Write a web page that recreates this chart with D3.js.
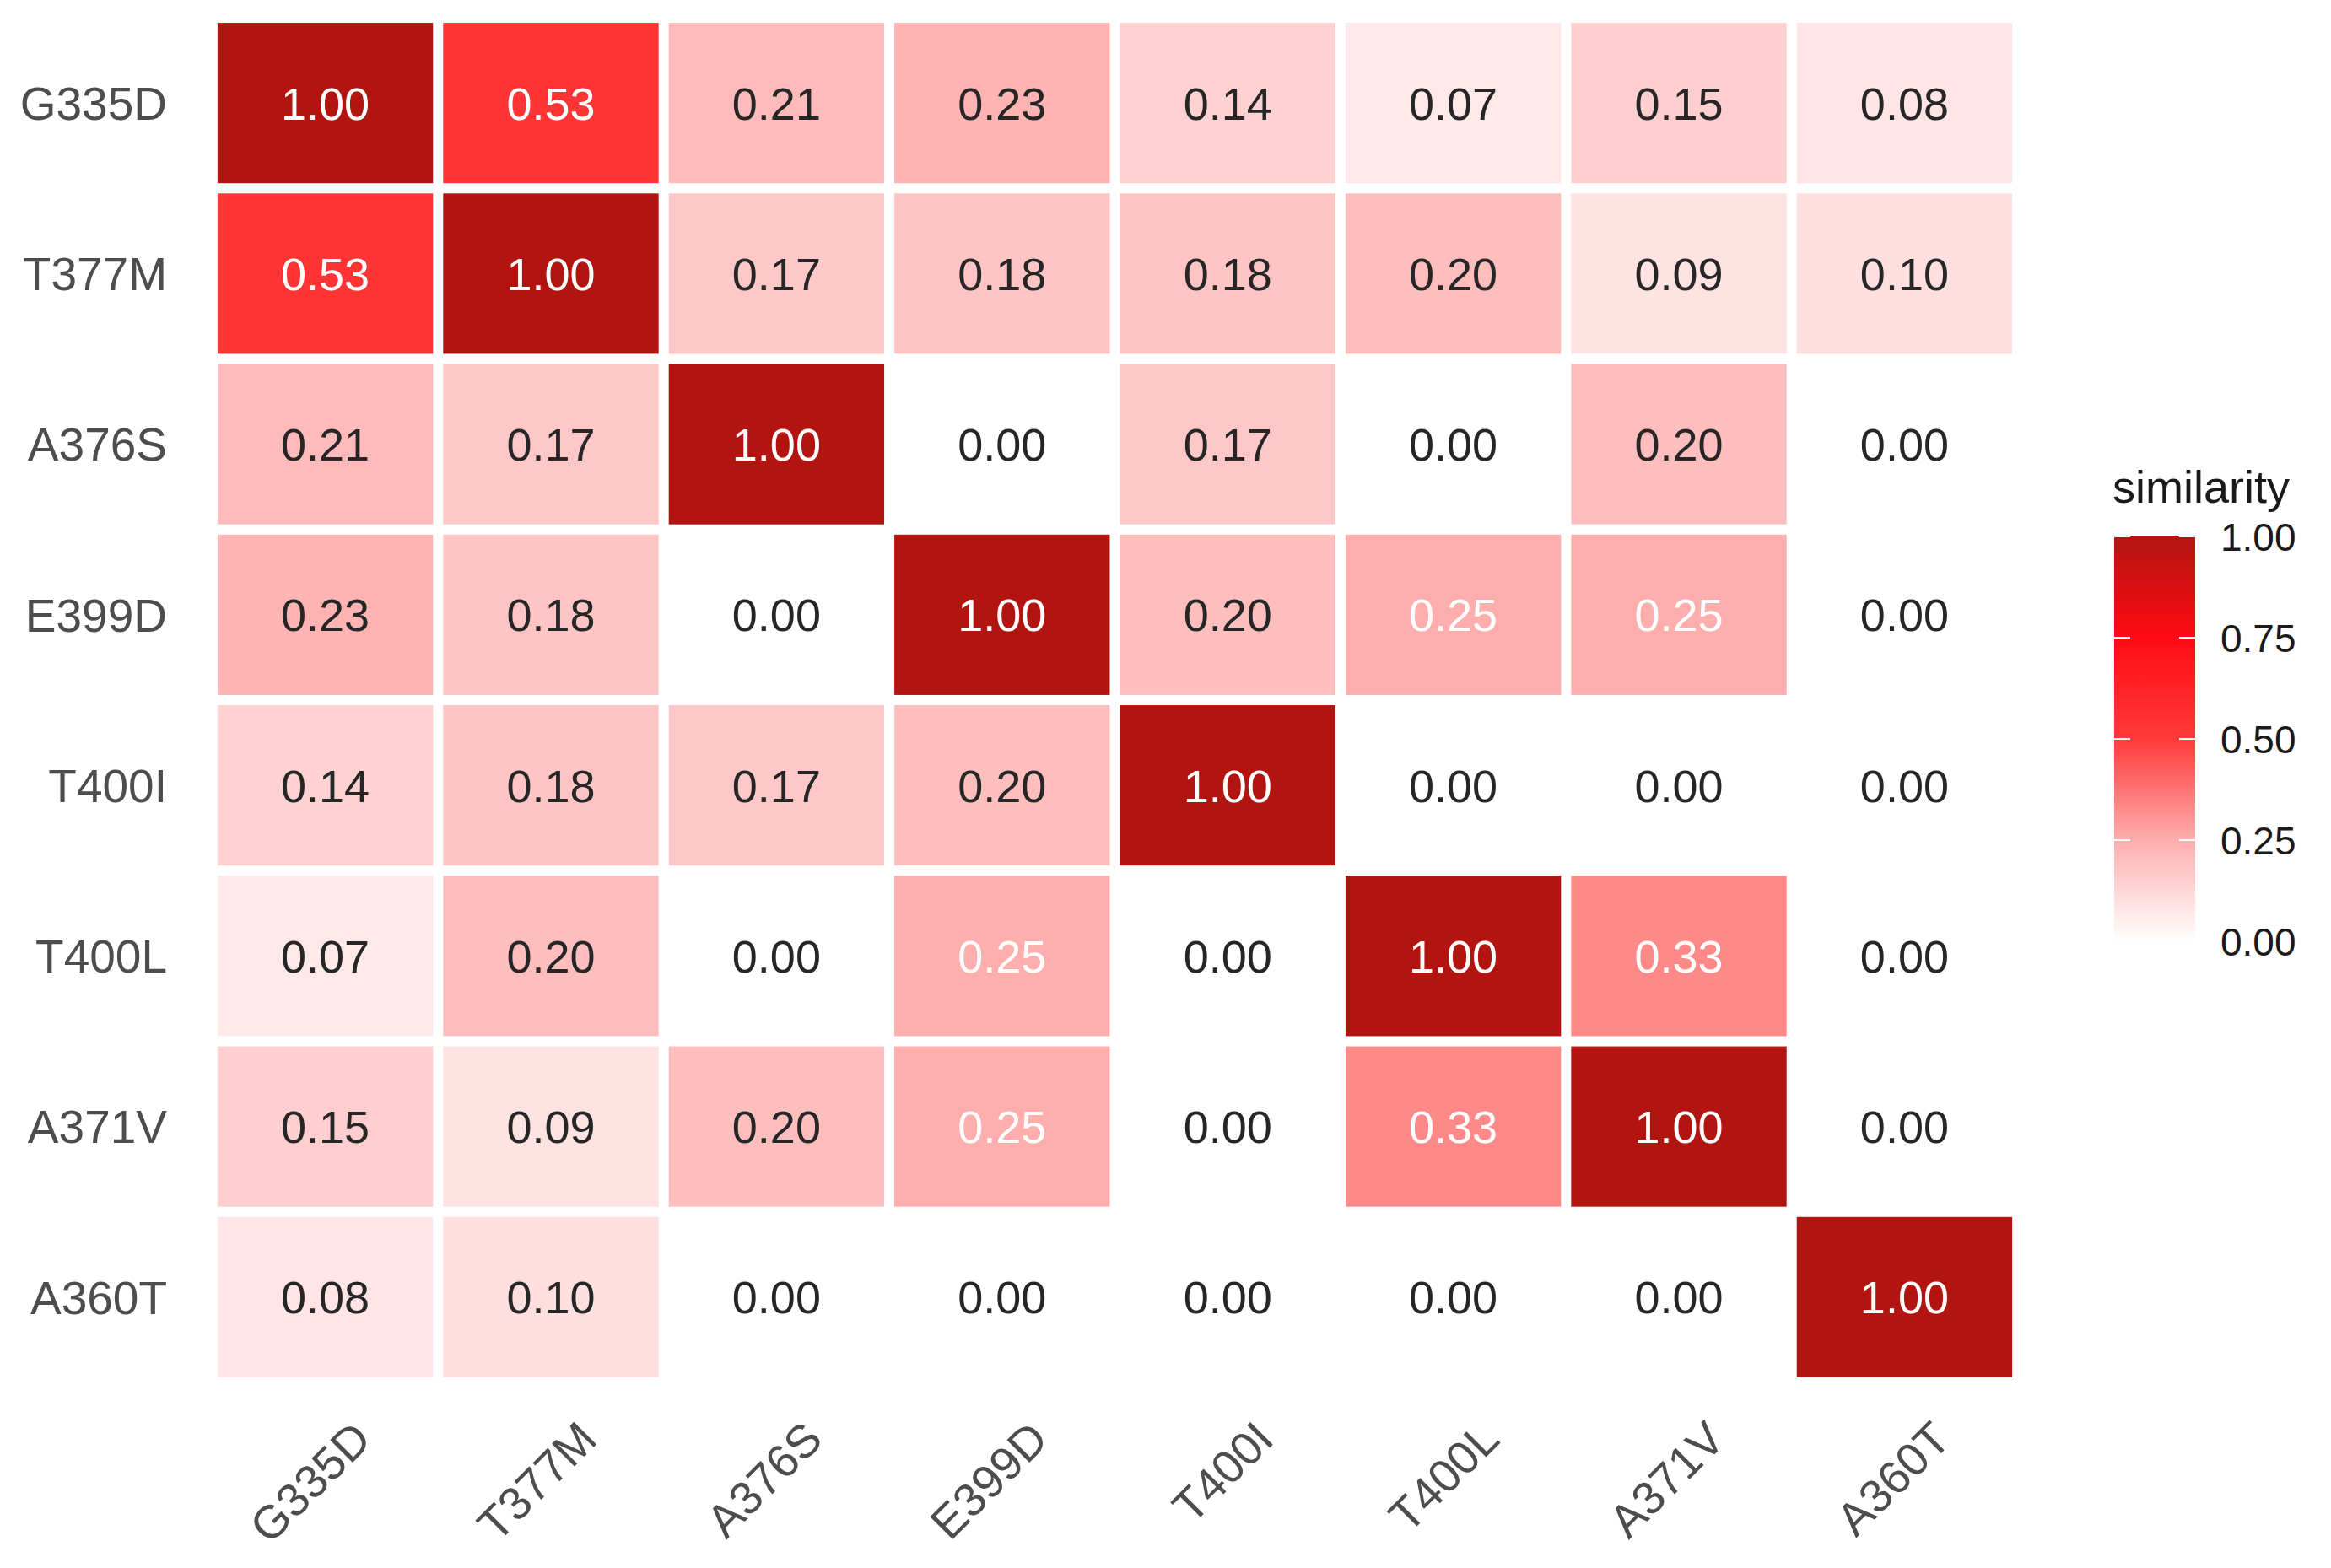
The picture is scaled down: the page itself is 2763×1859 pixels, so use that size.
<!DOCTYPE html>
<html><head><meta charset="utf-8">
<script src="https://cdn.jsdelivr.net/npm/d3@7"></script>
<style>body{margin:0;background:#fff}text{font-family:"Liberation Sans",Arial,sans-serif}</style>
</head><body><svg id="c" width="2763" height="1859"></svg>
<script>
// labels and similarity matrix
const variants = ['G335D','T377M','A376S','E399D','T400I','T400L','A371V','A360T'];
const similarity = [
  [1.00,0.53,0.21,0.23,0.14,0.07,0.15,0.08],
  [0.53,1.00,0.17,0.18,0.18,0.20,0.09,0.10],
  [0.21,0.17,1.00,0.00,0.17,0.00,0.20,0.00],
  [0.23,0.18,0.00,1.00,0.20,0.25,0.25,0.00],
  [0.14,0.18,0.17,0.20,1.00,0.00,0.00,0.00],
  [0.07,0.20,0.00,0.25,0.00,1.00,0.33,0.00],
  [0.15,0.09,0.20,0.25,0.00,0.33,1.00,0.00],
  [0.08,0.10,0.00,0.00,0.00,0.00,0.00,1.00]
];
const legendTicks = [0, 0.25, 0.5, 0.75, 1];

const svg = d3.select('#c');
const x = d3.scaleBand().domain(variants).range([252, 2391]).paddingInner(0.045).paddingOuter(0.022);
const y = d3.scaleBand().domain(variants).range([21, 1639]).paddingInner(0.06).paddingOuter(0.03);
const color = d3.scaleLinear().domain([0, 0.25, 0.5, 0.75, 1])
  .range(['#ffffff', '#ffaeae', '#ff3a3a', '#ff0a14', '#b21510']).clamp(true);

const cells = [];
similarity.forEach((row, i) => row.forEach((v, j) => cells.push({r: variants[i], c: variants[j], v})));

svg.append('g').selectAll('rect').data(cells).join('rect')
  .attr('x', d => x(d.c)).attr('y', d => y(d.r))
  .attr('width', x.bandwidth()).attr('height', y.bandwidth())
  .attr('fill', d => color(d.v));

svg.append('g').selectAll('text').data(cells).join('text')
  .attr('x', d => x(d.c) + x.bandwidth() / 2).attr('y', d => y(d.r) + y.bandwidth() / 2)
  .attr('dy', '0.36em').attr('text-anchor', 'middle').attr('font-size', 54)
  .attr('fill', d => d.v >= 0.25 ? '#ffffff' : '#262626')
  .text(d => d.v.toFixed(2));

// y axis labels
svg.append('g').selectAll('text').data(variants).join('text')
  .attr('x', 198).attr('y', d => y(d) + y.bandwidth() / 2).attr('dy', '0.36em')
  .attr('text-anchor', 'end').attr('font-size', 55).attr('fill', '#4d4d4d').text(d => d);

// x axis labels, rotated
svg.append('g').selectAll('text').data(variants).join('text')
  .attr('transform', d => `translate(${x(d) + x.bandwidth() / 2 + 30},${1682}) rotate(-45)`)
  .attr('text-anchor', 'end').attr('dy', '0.7em').attr('font-size', 55).attr('fill', '#4d4d4d').text(d => d);

// legend
const lx = 2506, lw = 96;
const ly = d3.scaleLinear().domain([0, 1]).range([1116, 636]);
const grad = svg.append('defs').append('linearGradient').attr('id', 'g')
  .attr('x1', 0).attr('x2', 0).attr('y1', 1).attr('y2', 0);
d3.range(0, 1.0001, 0.05).forEach(t => grad.append('stop').attr('offset', t).attr('stop-color', color(t)));
svg.append('rect').attr('x', lx).attr('y', ly(1)).attr('width', lw).attr('height', ly(0) - ly(1)).attr('fill', 'url(#g)');
const lg = svg.append('g');
lg.selectAll('line.l').data(legendTicks).join('line').attr('x1', lx).attr('x2', lx + 19)
  .attr('y1', d => ly(d)).attr('y2', d => ly(d)).attr('stroke', '#fff').attr('stroke-width', 2);
lg.selectAll('line.r').data(legendTicks).join('line').attr('x1', lx + lw - 19).attr('x2', lx + lw)
  .attr('y1', d => ly(d)).attr('y2', d => ly(d)).attr('stroke', '#fff').attr('stroke-width', 2);
lg.selectAll('text').data(legendTicks).join('text')
  .attr('x', 2632).attr('y', d => ly(d)).attr('dy', '0.36em').attr('font-size', 46).attr('fill', '#1a1a1a')
  .text(d => d.toFixed(2));
svg.append('text').attr('x', 2504).attr('y', 596).attr('font-size', 54).attr('fill', '#1a1a1a').text('similarity');
</script></body></html>
